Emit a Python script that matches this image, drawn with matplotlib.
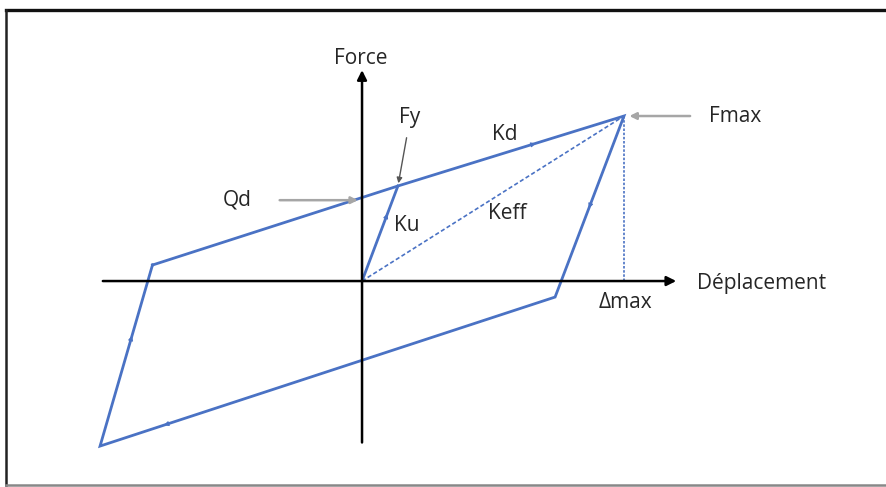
import numpy as np
import matplotlib.pyplot as plt
from matplotlib.lines import Line2D

# loop corners (displacement, force), arbitrary units
loop_x = [-8.0, 1.37, 10.0, 7.37, -10.0, -8.0]
loop_y = [0.97, 5.76, 10.0, -0.97, -10.0, 0.97]
ku_x = [0.0, 1.37]
ku_y = [0.0, 5.76]
d_max = 10.0
f_max = 10.0
q_d = 4.9
f_y = (1.37, 5.76)

blue = "#4a72c4"
grey = "#a6a6a6"
txt = "#262626"

plt.rcParams['font.family'] = ['Open Sans', 'DejaVu Sans']

fig = plt.figure(figsize=(8.87, 4.87), dpi=100)
ax = fig.add_axes([0, 0, 1, 1])
ax.set_xlim(-13.82, 20.04)
ax.set_ylim(-12.48, 17.03)
ax.axis("off")

# frame (right side is cut off in the picture)
fig.lines.append(Line2D([0.007, 1.0], [0.979, 0.979], transform=fig.transFigure, color="#111111", lw=2.4))
fig.lines.append(Line2D([0.007, 0.007], [0.004, 0.979], transform=fig.transFigure, color="#222222", lw=1.8))
fig.lines.append(Line2D([0.007, 1.0], [0.004, 0.004], transform=fig.transFigure, color="#888888", lw=1.8))

# axes with arrows
ax.annotate("", xy=(12.1, 0), xytext=(-10.0, 0),
            arrowprops=dict(arrowstyle="-|>", color="black", lw=1.8, mutation_scale=14))
ax.annotate("", xy=(0, 12.95), xytext=(0, -9.95),
            arrowprops=dict(arrowstyle="-|>", color="black", lw=1.8, mutation_scale=14))

# hysteresis loop
ax.plot(loop_x, loop_y, color=blue, lw=2.0, solid_joinstyle="miter")
ax.plot(ku_x, ku_y, color=blue, lw=2.0)
ax.plot([0, d_max], [0, f_max], color=blue, lw=1.2, ls=(0, (2.5, 1.5)))
ax.plot([d_max, d_max], [0, f_max], color=blue, lw=1.2, ls=(0, (1.5, 1.0)))

# small direction marks on the loop
segs = [((loop_x[1], loop_y[1]), (loop_x[2], loop_y[2]), 0.6),
        ((loop_x[2], loop_y[2]), (loop_x[3], loop_y[3]), 0.5),
        ((loop_x[3], loop_y[3]), (loop_x[4], loop_y[4]), 0.85),
        ((loop_x[4], loop_y[4]), (loop_x[5], loop_y[5]), 0.6),
        ((ku_x[0], ku_y[0]), (ku_x[1], ku_y[1]), 0.7)]
for p0, p1, t in segs:
    p0 = np.array(p0)
    p1 = np.array(p1)
    m = p0 + t * (p1 - p0)
    d = (p1 - p0) * 0.01
    ax.annotate("", xy=m + d, xytext=m,
                arrowprops=dict(arrowstyle="-|>", color=blue, lw=0.8, mutation_scale=7))

# pointer arrows
ax.annotate("", xy=(d_max + 0.1, f_max), xytext=(12.63, f_max),
            arrowprops=dict(arrowstyle="-|>", color=grey, lw=1.8, mutation_scale=10))
ax.annotate("", xy=(-0.05, q_d), xytext=(-3.25, q_d),
            arrowprops=dict(arrowstyle="-|>", color=grey, lw=1.8, mutation_scale=10))
ax.annotate("", xy=f_y, xytext=(1.72, 8.85),
            arrowprops=dict(arrowstyle="-|>", color="#555555", lw=1.0, mutation_scale=8))

# labels
fs = 15
ax.text(-0.04, 13.5, "Force", fontsize=fs, color=txt, ha="center", va="center")
ax.text(12.79, -0.12, "Déplacement", fontsize=fs, color=txt, ha="left", va="center")
ax.text(10.04, -1.27, "Δmax", fontsize=fs, color=txt, ha="center", va="center")
ax.text(13.24, 9.98, "Fmax", fontsize=fs, color=txt, ha="left", va="center")
ax.text(-4.77, q_d, "Qd", fontsize=fs, color=txt, ha="center", va="center")
ax.text(1.83, 9.94, "Fy", fontsize=fs, color=txt, ha="center", va="center")
ax.text(5.46, 8.85, "Kd", fontsize=fs, color=txt, ha="center", va="center")
ax.text(1.72, 3.39, "Ku", fontsize=fs, color=txt, ha="center", va="center")
ax.text(5.53, 4.12, "Keff", fontsize=fs, color=txt, ha="center", va="center")

plt.savefig("out.png", dpi=100)
